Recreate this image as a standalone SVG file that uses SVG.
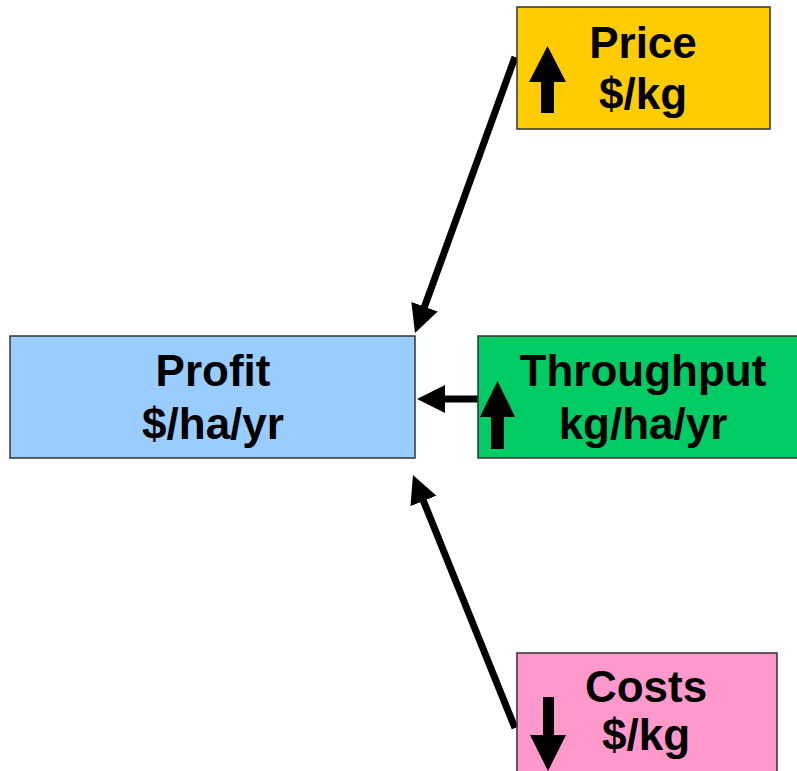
<svg xmlns="http://www.w3.org/2000/svg" width="797" height="771" viewBox="0 0 797 771">
<style>
.box{stroke:#333;stroke-width:1.5}
.lbl{font-family:"Liberation Sans",Arial,sans-serif;font-weight:bold;font-size:44px;fill:#000;text-anchor:middle}
.conn{stroke:#000;stroke-width:7;fill:none;marker-end:url(#ah)}
.ind{fill:#000}
</style>
<defs>
<marker id="ah" markerUnits="userSpaceOnUse" markerWidth="32" markerHeight="32" refX="6" refY="14" orient="auto">
<path d="M0,0 L28,14 L0,28 Z" fill="#000"/>
</marker>
</defs>
<rect width="797" height="771" fill="#fff"/>
<g id="connectors">
<path class="conn" d="M515,57 L422.5,312.3"/>
<path class="conn" d="M478,399 L439,399"/>
<path class="conn" d="M515,728 L421.2,495.4"/>
</g>
<g id="profit">
<rect class="box" x="10" y="336" width="405" height="122" fill="#99CCFF"/>
<text class="lbl" x="213" y="386">Profit</text>
<text class="lbl" x="213" y="439">$/ha/yr</text>
</g>
<g id="price">
<rect class="box" x="517" y="7" width="253" height="122" fill="#FFCC00"/>
<polygon class="ind" points="529,82 547.5,46 566,82 554,82 554,113 541,113 541,82"/>
<text class="lbl" x="643" y="58">Price</text>
<text class="lbl" x="643" y="109">$/kg</text>
</g>
<g id="throughput">
<rect class="box" x="478" y="336" width="330" height="122" fill="#00CC66"/>
<polygon class="ind" points="480,417 497.5,381 515,417 504,417 504,449 491,449 491,417"/>
<text class="lbl" x="643" y="386">Throughput</text>
<text class="lbl" x="643" y="439">kg/ha/yr</text>
</g>
<g id="costs">
<rect class="box" x="517" y="653" width="260" height="130" fill="#FF99CC"/>
<polygon class="ind" points="543,697 554,697 554,735 566,735 548,771 530,735 543,735"/>
<text class="lbl" x="646" y="702">Costs</text>
<text class="lbl" x="646" y="750">$/kg</text>
</g>
</svg>
